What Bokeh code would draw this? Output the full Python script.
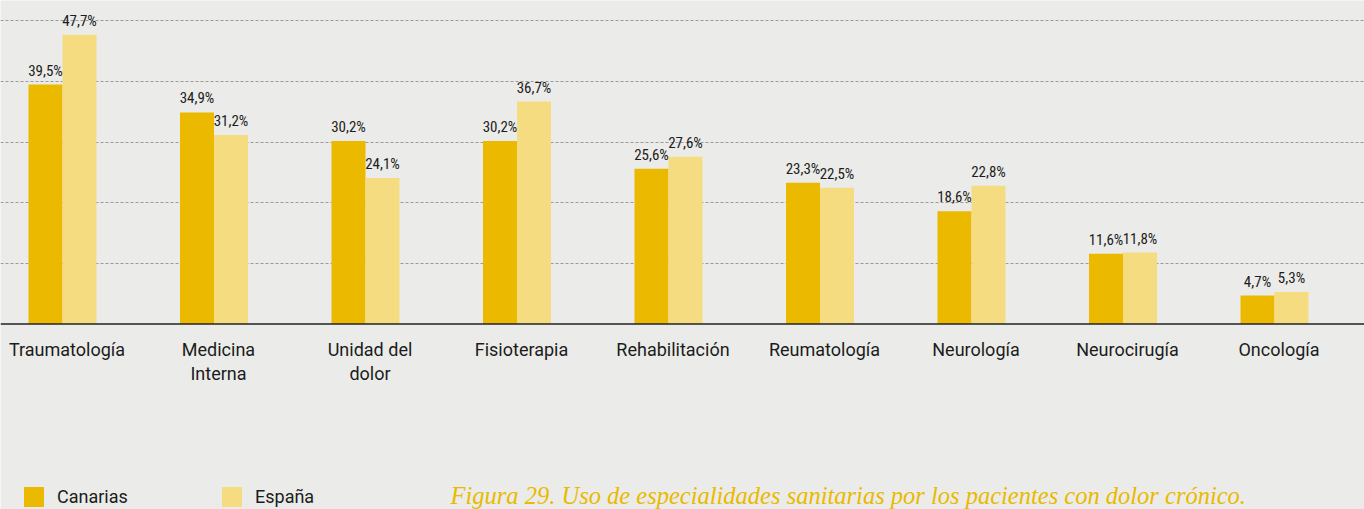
from bokeh.plotting import figure
from bokeh.models import (ColumnDataSource, Range1d, Grid, FixedTicker, Span,
                          Legend, LegendItem)
from bokeh.transform import dodge
from bokeh.core.properties import value
from bokeh.embed import file_html
from bokeh.resources import INLINE

# ---- data ----
categories = ["Traumatología", "Medicina\nInterna", "Unidad del\ndolor", "Fisioterapia",
              "Rehabilitación", "Reumatología", "Neurología", "Neurocirugía", "Oncología"]
canarias = [39.5, 34.9, 30.2, 30.2, 25.6, 23.3, 18.6, 11.6, 4.7]
espana = [47.7, 31.2, 24.1, 36.7, 27.6, 22.5, 22.8, 11.8, 5.3]
grid_ticks = [10, 20, 30, 40, 50]
series_names = ["Canarias", "España"]
caption = "Figura 29. Uso de especialidades sanitarias por los pacientes con dolor crónico."

# ---- style ----
BG = "#EBECE9"
C1 = "#EAB900"
C2 = "#F5DC80"
TXT = "#1C1C1C"
W, H = 1364, 509
BAR_W = 0.2244
X0, X1 = -0.4092, 8.5941
Y0, Y1 = -30.57, 53.36

def fmt(v):
    return f"{v:.1f}%".replace(".", ",")

idx = list(range(len(categories)))
src = ColumnDataSource(dict(
    x=idx, cat=categories, can=canarias, esp=espana,
    can_lbl=[fmt(v) for v in canarias], esp_lbl=[fmt(v) for v in espana],
))

p = figure(width=W, height=H, output_backend="svg", toolbar_location=None,
           x_range=Range1d(X0, X1), y_range=Range1d(Y0, Y1),
           x_axis_location=None, y_axis_location=None, min_border=0,
           background_fill_color=BG, border_fill_color=BG, outline_line_color=None)
p.xgrid.visible = False
p.ygrid.visible = False

grid = Grid(dimension=1, ticker=FixedTicker(ticks=grid_ticks),
            grid_line_color="#9A9A9A", grid_line_width=1, grid_line_dash="3 2")
p.add_layout(grid)

r1 = p.vbar(x=dodge("x", -BAR_W / 2, range=p.x_range), top="can", width=BAR_W,
            source=src, fill_color=C1, line_color=None)
r2 = p.vbar(x=dodge("x", BAR_W / 2, range=p.x_range), top="esp", width=BAR_W,
            source=src, fill_color=C2, line_color=None)

p.add_layout(Span(location=0, dimension="width", line_color="#222222", line_width=1.5))

common = dict(text_font=value("Roboto Condensed"), text_font_size="15px",
              text_color=TXT, text_align="center", text_baseline="bottom")
p.text(x=dodge("x", -BAR_W / 2, range=p.x_range), y="can", text="can_lbl",
       source=src, y_offset=-5, **common)
p.text(x=dodge("x", BAR_W / 2, range=p.x_range), y="esp", text="esp_lbl",
       source=src, y_offset=-5, **common)

# category labels
p.text(x="x", y=0, text="cat", source=src, x_offset=4.5, y_offset=15,
       text_font=value("Roboto"), text_font_size="18px", text_color=TXT,
       text_align="center", text_baseline="top", text_line_height=1.14)

# caption
p.text(x=[X0], y=[Y0], text=[caption], x_offset=450, y_offset=-14,
       text_font=value("Liberation Serif"), text_font_style="italic",
       text_font_size="24.5px", text_color=C1, text_align="left",
       text_baseline="alphabetic")

legend = Legend(items=[LegendItem(label=series_names[0], renderers=[r1]),
                       LegendItem(label=series_names[1], renderers=[r2])],
                location=(21, 0), orientation="horizontal",
                glyph_width=25, glyph_height=25, label_height=25, label_standoff=11,
                label_width=162, spacing=0, padding=0, margin=0,
                border_line_alpha=0, background_fill_alpha=0,
                label_text_font="Roboto", label_text_font_size="18px",
                label_text_color=TXT)
p.add_layout(legend)

open("out.html", "w").write(file_html(p, INLINE))
